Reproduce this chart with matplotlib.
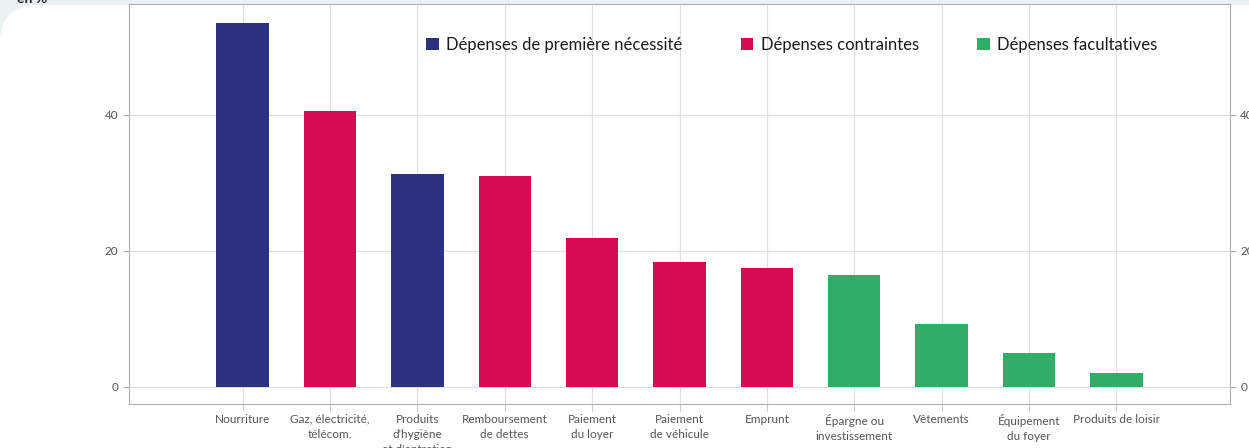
import matplotlib.pyplot as plt
from matplotlib.patches import FancyBboxPatch
import numpy as np

# --- Daten ---
categories = [
    "Nourriture",
    "Gaz, électricité,\ntélécom.",
    "Produits\nd'hygiène\net d'entretien",
    "Remboursement\nde dettes",
    "Paiement\ndu loyer",
    "Paiement\nde véhicule",
    "Emprunt",
    "Épargne ou\ninvestissement",
    "Vêtements",
    "Équipement\ndu foyer",
    "Produits de loisir",
]
values = [53.5, 40.6, 31.3, 31.0, 21.9, 18.4, 17.5, 16.5, 9.3, 5.0, 2.1]
groups = [0, 1, 0, 1, 1, 1, 1, 2, 2, 2, 2]
group_names = [
    "Dépenses de première nécessité",
    "Dépenses contraintes",
    "Dépenses facultatives",
]
group_colors = ["#2d3181", "#d60c52", "#30ad69"]
y_ticks = [0, 20, 40]

plt.rcParams['font.family'] = ['Lato', 'DejaVu Sans']

fig = plt.figure(figsize=(12.49, 4.48), dpi=100)
fig.patch.set_facecolor('#e9f3f3')

# weisses Panel mit abgerundeter Ecke
panel = FancyBboxPatch((0.0, -0.2), 1.2, 1.188, boxstyle="round,pad=0,rounding_size=0.03",
                       transform=fig.transFigure, facecolor='white', edgecolor='none',
                       mutation_aspect=12.49 / 4.48, zorder=-10)
fig.patches.append(panel)
fig.text(0.014, 1.016, "en %", fontsize=10, color='#222222', va='top', fontweight='bold')

ax = fig.add_axes([129 / 1249, 1 - 404 / 448, (1230 - 129) / 1249, 400 / 448])
ax.set_zorder(5)
ax.set_facecolor('white')

x = np.arange(len(categories))
vals = np.array(values)
grp = np.array(groups)
for g, (name, color) in enumerate(zip(group_names, group_colors)):
    mask = grp == g
    ax.bar(x[mask], vals[mask], width=0.6, color=color, label=name, zorder=3)

ax.set_xlim(-1.3, 11.3)
ax.set_ylim(-2.5, 56.3)
ax.set_xticks(x)
ax.set_xticklabels(categories, fontsize=8.5, color='#555555', linespacing=1.45)
ax.set_yticks(y_ticks)
ax.tick_params(axis='y', labelsize=8.5, labelcolor='#555555', color='#aaaaaa', length=4,
               right=True, labelright=True)
ax.tick_params(axis='x', color='#cccccc', length=5, pad=2)
ax.grid(True, color='#e0e0e0', linewidth=0.9, zorder=0)
ax.set_axisbelow(True)
for spine in ax.spines.values():
    spine.set_color('#b0b0b0')

leg = ax.legend(loc='center', bbox_to_anchor=(0.602, 0.8975), ncol=3, frameon=False,
                fontsize=12, handlelength=0.75, handleheight=0.75, handletextpad=0.45,
                columnspacing=3.5)
for t in leg.get_texts():
    t.set_color('#1a1a1a')

fig.savefig('out.png', dpi=100, facecolor=fig.get_facecolor())
